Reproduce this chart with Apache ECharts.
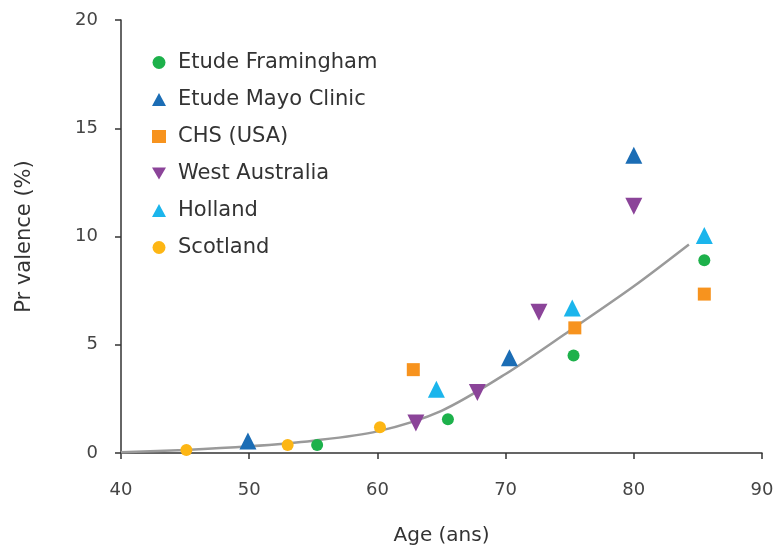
<!DOCTYPE html>
<html><head><meta charset="utf-8">
<script src="https://cdn.jsdelivr.net/npm/echarts@6/dist/echarts.min.js"></script>
<style>html,body{margin:0;padding:0;background:#fff}#c{width:777px;height:551px}</style>
</head><body><div id="c"></div>
<script>
const seriesNames = ["Etude Framingham","Etude Mayo Clinic","CHS (USA)","West Australia","Holland","Scotland"];
const framingham = [[55.3,0.37],[65.5,1.56],[75.3,4.5],[85.5,8.9]];
const mayo = [[49.9,0.55],[70.3,4.4],[80,13.75]];
const chs = [[62.8,3.85],[75.4,5.78],[85.5,7.34]];
const westAustralia = [[63,1.38],[67.8,2.8],[72.6,6.5],[80,11.4]];
const holland = [[64.6,2.94],[75.2,6.7],[85.5,10.05]];
const scotland = [[45.1,0.14],[53,0.37],[60.2,1.19]];
const trendX = [40,45,50,55,60,65,70,75,80,84.3];
const trendY = [0.03,0.14,0.31,0.57,1.0,1.95,3.65,5.65,7.7,9.63];
const xTicks = [40,50,60,70,80,90];
const yTicks = [0,5,10,15,20];

const colors = ["#1db14b","#1b6db5","#f7931e","#8b4499","#1bb5ec","#fdb614"];
const symbols = ["circle","triangle","rect","path://M0,0 L10,0 L5,8.66 Z","triangle","circle"];
const sizes = [12,17,13,17,17,12];
const datasets = [framingham, mayo, chs, westAustralia, holland, scotland];
const font = "'DejaVu Sans', sans-serif";

const chart = echarts.init(document.getElementById('c'));
const series = datasets.map((d,i)=>({
  name: seriesNames[i], type:'scatter', data:d, symbol:symbols[i], symbolSize:sizes[i],
  itemStyle:{color:colors[i], opacity:1}, z:3
}));
series.unshift({
  name:'trend', type:'line', smooth:0.3, showSymbol:false, silent:true,
  data: trendX.map((x,i)=>[x,trendY[i]]),
  lineStyle:{color:'#9a9a9a', width:2.5}, z:2
});
chart.setOption({
  animation:false,
  grid:{left:121, right:15, top:20, bottom:96},
  legend:{
    data: seriesNames.map((n,i)=>({name:n, icon:symbols[i]})),
    orient:'vertical', left:147, top:47, itemGap:16, itemWidth:14, itemHeight:13,
    textStyle:{fontFamily:font, fontSize:21, color:'#333', padding:[0,0,0,7]}
  },
  xAxis:{type:'value', min:40, max:90, interval:10,
    name:'Age (ans)', nameLocation:'middle', nameGap:73,
    nameTextStyle:{fontFamily:font, fontSize:20, color:'#333'},
    axisLine:{onZero:false, lineStyle:{color:'#333', width:1.5}},
    axisTick:{length:6, lineStyle:{color:'#333', width:1.5}},
    axisLabel:{fontFamily:font, fontSize:18, color:'#444', margin:28,
      formatter:v=>xTicks.includes(v)?String(v):''},
    splitLine:{show:false}},
  yAxis:{type:'value', min:0, max:20, interval:5,
    name:'Pr valence (%)', nameLocation:'middle', nameGap:86, nameRotate:90,
    nameTextStyle:{fontFamily:font, fontSize:21, color:'#333'},
    axisLine:{show:true, lineStyle:{color:'#333', width:1.5}},
    axisTick:{show:true, length:6, lineStyle:{color:'#333', width:1.5}},
    axisLabel:{fontFamily:font, fontSize:18, color:'#444', margin:23,
      formatter:v=>yTicks.includes(v)?String(v):''},
    splitLine:{show:false}},
  series: series
});
</script></body></html>
